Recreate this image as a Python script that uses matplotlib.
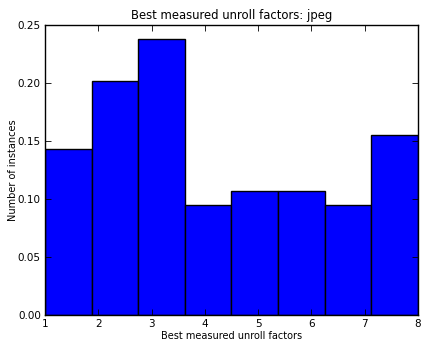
import numpy as np
import matplotlib
matplotlib.use("Agg")
import matplotlib.pyplot as plt

bin_edges = np.linspace(1, 8, 9)
values = [0.143, 0.202, 0.238, 0.095, 0.107, 0.107, 0.095, 0.155]
xticks = [1, 2, 3, 4, 5, 6, 7, 8]
yticks = [0.00, 0.05, 0.10, 0.15, 0.20, 0.25]

fig = plt.figure(figsize=(4.22, 3.45), dpi=100)
ax = fig.add_axes([0.1066, 0.087, 0.8839, 0.8405])
ax.bar(bin_edges[:-1], values, width=np.diff(bin_edges), align='edge',
       color='#0000ff', edgecolor='black', linewidth=1.0)
ax.set_xlim(1, 8)
ax.set_ylim(0, 0.25)
ax.set_xticks(xticks)
ax.set_yticks(yticks)
ax.set_yticklabels([f"{v:.2f}" for v in yticks])
ax.tick_params(direction='in', top=True, right=True, labelsize=7.5, length=4, width=0.6, pad=3)
for s in ax.spines.values():
    s.set_linewidth(1.0)
ax.set_title("Best measured unroll factors: jpeg", fontsize=8.4, pad=4)
ax.set_xlabel("Best measured unroll factors", fontsize=7, labelpad=1)
ax.set_ylabel("Number of instances", fontsize=7, labelpad=0)
fig.savefig("out.png", dpi=100)
